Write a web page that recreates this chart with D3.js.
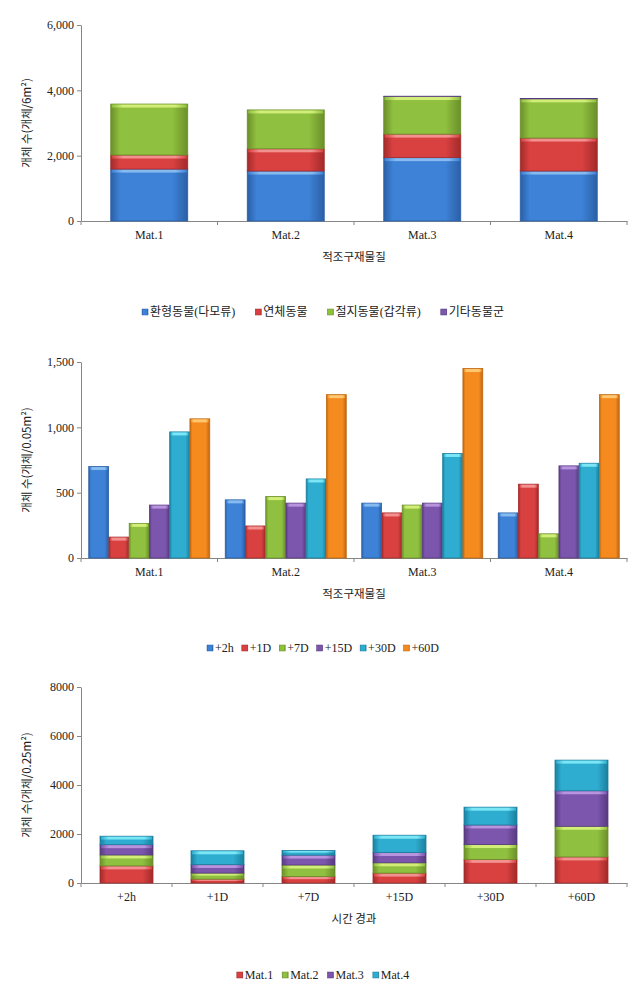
<!DOCTYPE html>
<html>
<head>
    <meta charset="utf-8">
    <script src="https://cdn.jsdelivr.net/npm/d3@7"></script>
    <style>
        body { margin: 0; background: #fff; }
        svg { display: block; }
        .tick text { font-family: "Liberation Serif", serif; font-size: 12px; fill: #222; }
        .axis path, .axis line { stroke: #868686; }
        .kr { font-family: "Noto Sans CJK KR", sans-serif; font-size: 11.5px; fill: #222; }
        .leg { font-family: "Liberation Serif", "Noto Sans CJK KR", serif; font-size: 12px; fill: #222; }
    </style>
</head>
<body>
<svg width="642" height="994"></svg>
<script>

// chart 1 : stacked, per material
var materials = ['Mat.1', 'Mat.2', 'Mat.3', 'Mat.4'];
var groups1 = ['환형동물(다모류)', '연체동물', '절지동물(갑각류)', '기타동물군'];
var annelida = [1590, 1530, 1940, 1530];
var mollusca = [430, 680, 720, 1010];
var arthropoda = [1560, 1190, 1150, 1200];
var others = [0, 0, 10, 8];
var ticks1 = [0, 2000, 4000, 6000];

// chart 2 / 3 : elapsed time
var times = ['+2h', '+1D', '+7D', '+15D', '+30D', '+60D'];
var mat1 = [700, 160, 265, 405, 965, 1065];
var mat2 = [445, 245, 470, 420, 605, 1250];
var mat3 = [420, 345, 405, 420, 800, 1450];
var mat4 = [345, 565, 185, 705, 725, 1250];
var ticks2 = [0, 500, 1000, 1500];
var ticks3 = [0, 2000, 4000, 6000, 8000];

var colors = {
    blue:   ['#2b5fa6', '#3d82d6', '#86bbf0'],
    red:    ['#a32a2a', '#d94141', '#f39090'],
    green:  ['#6b8f2a', '#8fc03f', '#d2ee78'],
    purple: ['#583a80', '#7c56ad', '#b894de'],
    teal:   ['#1b7f9e', '#2eadd0', '#7be6f5'],
    orange: ['#bf6610', '#f58b1f', '#ffc870']
};

var svg = d3.select('svg');
var defs = svg.append('defs');

Object.keys(colors).forEach(function (k) {
    var c = colors[k];
    var g = defs.append('linearGradient').attr('id', 'g_' + k)
        .attr('x1', 0).attr('x2', 1).attr('y1', 0).attr('y2', 0);
    g.append('stop').attr('offset', '0%').attr('stop-color', c[0]);
    g.append('stop').attr('offset', '12%').attr('stop-color', c[1]);
    g.append('stop').attr('offset', '80%').attr('stop-color', c[1]);
    g.append('stop').attr('offset', '100%').attr('stop-color', c[0]);
    var h = defs.append('linearGradient').attr('id', 'h_' + k)
        .attr('x1', 0).attr('x2', 1).attr('y1', 0).attr('y2', 0);
    h.append('stop').attr('offset', '0%').attr('stop-color', c[1]);
    h.append('stop').attr('offset', '15%').attr('stop-color', c[2]);
    h.append('stop').attr('offset', '85%').attr('stop-color', c[2]);
    h.append('stop').attr('offset', '100%').attr('stop-color', c[1]);
});

function drawBar(g, x, y, w, h, key) {
    if (h <= 0) return;
    g.append('rect').attr('x', x).attr('y', y).attr('width', w).attr('height', h)
        .attr('fill', 'url(#g_' + key + ')')
        .attr('stroke', colors[key][0]).attr('stroke-width', 0.8);
    var hh = Math.min(3, h / 3);
    g.append('rect').attr('x', x + 1).attr('y', y + 0.5).attr('width', w - 2).attr('height', hh)
        .attr('fill', 'url(#h_' + key + ')');
}

function frame(top, bottom, ticks, fmt, cats, yTitle, xTitle) {
    var x = d3.scaleBand().domain(cats).range([81, 627]);
    var y = d3.scaleLinear().domain([0, ticks[ticks.length - 1]]).range([bottom, top]);
    var g = svg.append('g');

    var ya = g.append('g').attr('class', 'axis').attr('transform', 'translate(81,0)')
        .call(d3.axisLeft(y).tickValues(ticks).tickFormat(fmt).tickSize(4).tickSizeOuter(0));
    ya.selectAll('text').attr('x', -7);

    var xa = g.append('g').attr('class', 'axis').attr('transform', 'translate(0,' + bottom + ')')
        .call(d3.axisBottom(x).tickSize(0).tickSizeOuter(0));
    xa.selectAll('.tick text').attr('dy', '1.25em');
    // ticks at category boundaries
    var bounds = cats.map(function (c) { return x(c); }).concat([627]);
    xa.selectAll('.bound').data(bounds).enter().append('line')
        .attr('x1', function (d) { return d; }).attr('x2', function (d) { return d; })
        .attr('y1', 0).attr('y2', 4).attr('stroke', '#868686');

    g.append('text').attr('class', 'kr')
        .attr('transform', 'translate(31,' + (top + bottom) / 2 + ') rotate(-90)')
        .attr('text-anchor', 'middle').text(yTitle);
    g.append('text').attr('class', 'kr')
        .attr('x', 354).attr('y', bottom + 40)
        .attr('text-anchor', 'middle').text(xTitle);

    return {x: x, y: y, g: g};
}

function legend(cy, labels, keys, gap) {
    var g = svg.append('g');
    var cx = 0;
    labels.forEach(function (l, i) {
        var it = g.append('g');
        it.append('rect').attr('x', 0).attr('y', -7).attr('width', 6).attr('height', 6)
            .attr('fill', 'url(#g_' + keys[i] + ')').attr('stroke', colors[keys[i]][0]).attr('stroke-width', 0.5);
        var t = it.append('text').attr('class', 'leg').attr('x', 8).attr('y', 0).text(l);
        var w = 8 + t.node().getComputedTextLength();
        it.attr('transform', 'translate(' + cx + ',' + cy + ')');
        cx += w + gap;
    });
    var total = cx - gap;
    g.attr('transform', 'translate(' + (323 - total / 2) + ',0)');
}

// ---- chart 1
var c1 = frame(25, 221, ticks1, d3.format(','), materials, '개체 수(개체/6m²)', '적조구재물질');
var series1 = [annelida, mollusca, arthropoda, others];
var keys1 = ['blue', 'red', 'green', 'purple'];
var bw1 = 77;
materials.forEach(function (m, i) {
    var base = 0;
    series1.forEach(function (s, j) {
        var y0 = c1.y(base), y1 = c1.y(base + s[i]);
        drawBar(c1.g, c1.x(m) + (c1.x.bandwidth() - bw1) / 2, y1, bw1, y0 - y1, keys1[j]);
        base += s[i];
    });
});
legend(316, groups1, keys1, 20);

// ---- chart 2
var c2 = frame(362, 558, ticks2, d3.format(','), materials, '개체 수(개체/0.05m²)', '적조구재물질');
var byMat = [mat1, mat2, mat3, mat4];
var keys2 = ['blue', 'red', 'green', 'purple', 'teal', 'orange'];
var inner = d3.scaleBand().domain(times).range([0, 121]).paddingInner(0.02);
materials.forEach(function (m, i) {
    var x0 = c2.x(m) + (c2.x.bandwidth() - 121) / 2;
    times.forEach(function (t, j) {
        var v = byMat[i][j];
        drawBar(c2.g, x0 + inner(t), c2.y(v), inner.bandwidth(), c2.y(0) - c2.y(v), keys2[j]);
    });
});
legend(652, times, keys2, 8);

// ---- chart 3
var c3 = frame(687, 883, ticks3, d3.format('d'), times, '개체 수(개체/0.25m²)', '시간 경과');
var keys3 = ['red', 'green', 'purple', 'teal'];
var bw3 = 53;
times.forEach(function (t, j) {
    var base = 0;
    byMat.forEach(function (s, i) {
        var y0 = c3.y(base), y1 = c3.y(base + s[j]);
        drawBar(c3.g, c3.x(t) + (c3.x.bandwidth() - bw3) / 2, y1, bw3, y0 - y1, keys3[i]);
        base += s[j];
    });
});
legend(979, materials, keys3, 9);

</script>
</body>
</html>
